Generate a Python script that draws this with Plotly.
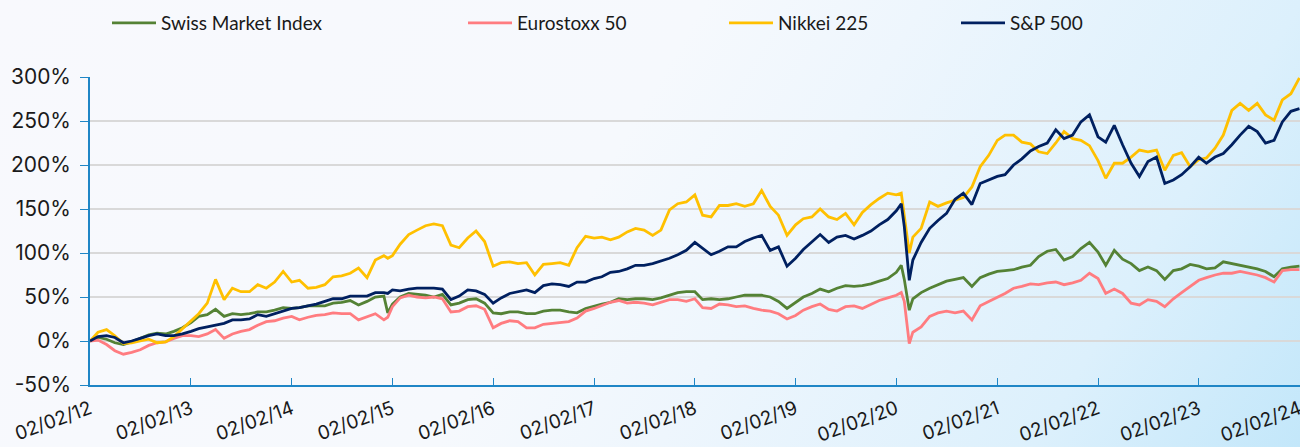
import base64
import pandas as pd
import plotly.graph_objects as go

# ---------------- data (cumulative performance in %) ----------------
month_dates = list((pd.date_range("2012-02-01", periods=145, freq="MS") + pd.Timedelta(days=1)).strftime("%Y-%m-%d"))

smi_monthly = [0, 4, 2, -2, -4, -1, 3, 7, 9, 8, 11, 15, 21, 28, 30, 36, 28, 31, 30, 31,
               33, 33, 35, 38, 37, 38, 40, 40, 40, 43, 44, 46, 41, 45, 50, 51, 42, 50, 54, 53,
               52, 50, 53, 41, 43, 47, 48, 43, 32, 31, 33, 33, 31, 31, 34, 35, 35, 33, 32, 37,
               40, 42, 44, 48, 47, 48, 48, 47, 49, 52, 55, 56, 56, 47, 48, 47, 48, 50, 52, 52,
               52, 50, 45, 37, 44, 50, 54, 59, 56, 60, 63, 62, 63, 65, 68, 71, 78, 70, 48, 55,
               60, 64, 68, 70, 72, 62, 72, 76, 79, 80, 81, 84, 86, 96, 102, 104, 92, 96, 105, 112,
               101, 86, 103, 93, 88, 80, 84, 80, 70, 80, 82, 87, 85, 82, 83, 90, 88, 86, 84, 82,
               79, 73, 82, 84, 85]

euro_monthly = [0, 1, -4, -11, -15, -13, -10, -5, -2, -1, 3, 6, 6, 5, 8, 13, 3, 8, 11, 13,
                18, 22, 23, 26, 28, 24, 27, 29, 30, 32, 31, 31, 24, 28, 31, 24, 39, 49, 52, 50,
                49, 50, 48, 33, 34, 39, 40, 36, 15, 20, 23, 22, 15, 15, 19, 20, 21, 22, 26, 34,
                37, 40, 44, 46, 43, 44, 43, 41, 44, 47, 47, 45, 48, 38, 37, 42, 41, 39, 40, 37,
                35, 34, 31, 25, 29, 35, 39, 42, 36, 34, 39, 40, 37, 42, 46, 49, 52, 45, 10, 16,
                28, 32, 34, 32, 34, 24, 40, 45, 50, 54, 60, 62, 65, 64, 66, 67, 64, 66, 69, 77,
                71, 54, 59, 54, 43, 41, 47, 45, 39, 48, 55, 62, 69, 72, 75, 77, 77, 79, 77, 75,
                72, 67, 80, 81, 81]

nikkei_monthly = [0, 10, 13, 6, -3, -2, 0, 2, -2, -1, 5, 14, 22, 31, 43, 70, 47, 60, 56, 56,
                  64, 60, 67, 79, 67, 69, 60, 61, 64, 73, 74, 77, 83, 72, 92, 97, 97, 110, 121, 126,
                  131, 133, 131, 109, 106, 117, 125, 113, 85, 89, 90, 88, 89, 75, 87, 88, 89, 86, 106, 119,
                  117, 118, 115, 118, 124, 128, 126, 120, 126, 149, 156, 158, 166, 143, 141, 154, 154, 156, 153, 156,
                  171, 153, 143, 120, 132, 139, 141, 150, 141, 138, 145, 132, 146, 155, 162, 168, 166, 140, 118, 128,
                  158, 153, 157, 160, 163, 175, 198, 211, 228, 234, 234, 226, 224, 215, 213, 225, 238, 230, 228, 222,
                  205, 185, 202, 202, 209, 217, 215, 217, 194, 211, 214, 198, 206, 208, 219, 234, 262, 270, 262, 270,
                  257, 251, 274, 281, 299]

sp_monthly = [0, 5, 6, 4, -2, 0, 3, 6, 8, 6, 6, 8, 11, 14, 16, 18, 20, 24, 24, 25,
              30, 28, 31, 34, 37, 38, 40, 42, 45, 48, 48, 51, 51, 51, 55, 55, 58, 57, 59, 60,
              60, 60, 59, 47, 51, 58, 57, 53, 43, 49, 54, 56, 58, 55, 63, 65, 64, 62, 67, 67,
              71, 73, 78, 79, 82, 86, 86, 88, 91, 94, 98, 103, 112, 105, 98, 102, 107, 107, 113, 117,
              120, 103, 107, 85, 94, 104, 113, 121, 112, 118, 120, 116, 120, 125, 132, 138, 148, 130, 92, 112,
              128, 137, 145, 161, 168, 155, 179, 183, 187, 189, 200, 207, 216, 221, 225, 240, 230, 234, 249, 257,
              232, 226, 245, 223, 202, 187, 204, 209, 179, 183, 189, 198, 209, 202, 209, 213, 223, 234, 244, 238,
              225, 228, 249, 261, 264]

# extra readings at sharp moves (SNB shock, Covid peak and trough)
event_dates = ["2015-01-16", "2020-02-20", "2020-03-20"]
smi_events = [32, 86, 35]
euro_events = [27, 55, -3]
nikkei_events = [94, 168, 100]
sp_events = [54, 156, 69]

series_names = ["Swiss Market Index", "Eurostoxx 50", "Nikkei 225", "S&P 500"]
series_colors = ["#548235", "#FF7C80", "#FFC000", "#002060"]
y_ticks = [-50, 0, 50, 100, 150, 200, 250, 300]
y_tick_text = ["-50%", "0%", "50%", "100%", "150%", "200%", "250%", "300%"]


def build(monthly, events):
    s = pd.Series(monthly + events, index=pd.to_datetime(month_dates + event_dates))
    return s.sort_index()


all_series = [build(smi_monthly, smi_events), build(euro_monthly, euro_events),
              build(nikkei_monthly, nikkei_events), build(sp_monthly, sp_events)]

# ---------------- figure ----------------
W, H = 1300, 447
ML, MR, MT, MB = 90, 0, 77, 62
PW, PH = W - ML - MR, H - MT - MB
FONT = "Lato, 'Open Sans', sans-serif"
TICK_FONT = "Inter, Lato, sans-serif"
AXIS_BLUE = "#1f86c6"

fig = go.Figure()
legend_ids = ["legend", "legend2", "legend3", "legend4"]
legend_px = [111, 467, 728, 960]
for s, name, color, lg in zip(all_series, series_names, series_colors, legend_ids):
    fig.add_trace(go.Scatter(x=s.index, y=s.values, mode="lines", name=name,
                             line=dict(color=color, width=2.8), legend=lg,
                             hovertemplate="%{x|%d/%m/%y}: %{y:.0f}%<extra>" + name + "</extra>"))

svg = (
    f'<svg xmlns="http://www.w3.org/2000/svg" width="{W}" height="{H}" viewBox="0 0 {W} {H}" preserveAspectRatio="none">'
    '<defs><linearGradient id="g" gradientUnits="userSpaceOnUse" x1="0" y1="0" x2="1153" y2="692">'
    '<stop offset="0" stop-color="#f8f9fd"/><stop offset="0.45" stop-color="#f6f9fd"/>'
    '<stop offset="0.59" stop-color="#eef6fd"/><stop offset="0.83" stop-color="#dcf0fc"/>'
    '<stop offset="1" stop-color="#c3e7fa"/></linearGradient></defs>'
    f'<rect width="{W}" height="{H}" fill="url(#g)"/></svg>'
)
src = "data:image/svg+xml;base64," + base64.b64encode(svg.encode()).decode()

legend_layouts = {}
for lg, px in zip(legend_ids, legend_px):
    legend_layouts[lg] = dict(
        orientation="h", x=(px - ML - 4) / PW, xanchor="left", xref="paper",
        y=1 + (MT - 23) / PH, yanchor="middle", yref="paper",
        bgcolor="rgba(0,0,0,0)", font=dict(family=FONT, size=19, color="#1a1a1a"),
        itemwidth=44, traceorder="normal",
    )

fig.update_layout(
    width=W, height=H,
    margin=dict(l=ML, r=MR, t=MT, b=MB, autoexpand=False),
    paper_bgcolor="rgba(0,0,0,0)", plot_bgcolor="rgba(0,0,0,0)",
    font=dict(family=FONT, size=19, color="#1a1a1a"),
    images=[dict(source=src, xref="paper", yref="paper", x=-ML / PW, y=1 + MT / PH,
                 sizex=W / PW, sizey=H / PH, xanchor="left", yanchor="top",
                 sizing="stretch", layer="below")],
    showlegend=True,
    **legend_layouts,
)

fig.update_xaxes(
    type="date", range=["2012-02-02", "2024-02-04"], tick0="2012-02-02", dtick="M12",
    tickformat="%d/%m/%y", tickangle=-20, showgrid=False, zeroline=False,
    showline=True, linecolor=AXIS_BLUE, linewidth=1.6,
    ticks="inside", ticklen=7, tickwidth=1.4, tickcolor=AXIS_BLUE,
    tickfont=dict(family=TICK_FONT, size=19, color="#1a1a1a"), automargin=False,
    ticklabelstandoff=4, ticklabeloverflow="allow",
)
fig.update_yaxes(
    range=[-50, 300], tickvals=y_ticks, ticktext=y_tick_text, showgrid=True,
    gridcolor="#d9d9d9", gridwidth=1.5, zeroline=False,
    showline=True, linecolor=AXIS_BLUE, linewidth=1.6,
    ticks="outside", ticklen=8, tickwidth=1.4, tickcolor=AXIS_BLUE,
    tickfont=dict(family=TICK_FONT, size=21, color="#1a1a1a"), automargin=False,
    ticklabelstandoff=5,
)

fig.write_html(
    "out.html",
    config={"displayModeBar": False},
    post_script="document.body.style.margin='0';document.body.style.overflow='hidden';"
                "document.documentElement.style.overflow='hidden';",
)
